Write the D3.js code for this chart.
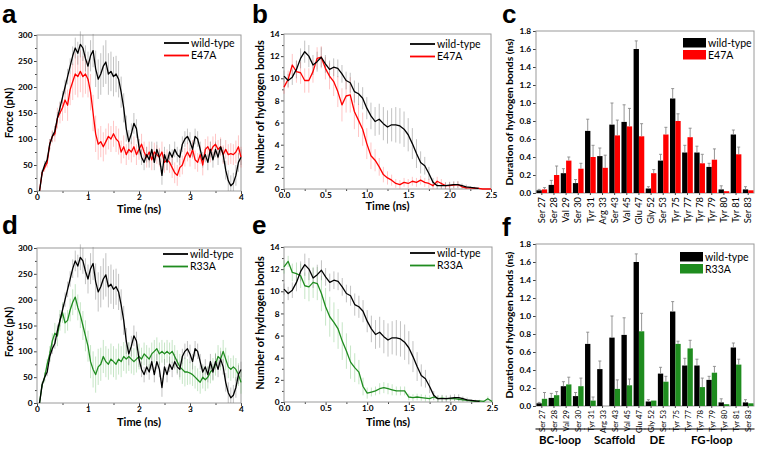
<!DOCTYPE html>
<html><head><meta charset="utf-8">
<script src="https://cdn.jsdelivr.net/npm/d3@7"></script>
<style>
body{margin:0;background:#fff;}
svg{display:block;font-family:Lato,"Open Sans",sans-serif;}
</style></head><body>
<svg id="chart" width="759" height="455"></svg>
<script>
// ---------- DATA ----------
const forceTime = d3.range(1, 81).map(i => +(i * 0.05).toFixed(2)); // 0.05 .. 4.00 ns
const bondTime = d3.range(0, 51).map(i => +(i * 0.05).toFixed(2));  // 0.00 .. 2.50 ns

const forceWT = [0,35,50,60,90,105,115,140,160,180, 200,220,240,260,275,265,282,275,255,240,
  260,270,235,215,225,240,248,225,230,220, 225,215,190,160,120,95,110,130,120,85,
  65,55,70,60,80,55,80,65,30,70, 55,75,65,80,70,65,90,100,105,95,
  80,105,100,80,60,70,55,80,60,80, 65,85,70,40,20,10,15,30,55,65];
const forceWTErr = [0,5,8,8,10,10,10,12,12,12, 14,15,15,18,20,22,25,25,25,28,
  30,32,35,38,40,40,42,40,38,38, 35,35,30,28,25,22,20,20,18,15,
  15,15,15,15,15,15,15,15,18,15, 15,15,15,15,15,15,15,15,15,18,
  15,15,15,15,15,15,15,15,15,15, 15,15,15,18,20,20,20,20,18,15];
const forceE47A = [0,35,45,55,90,105,110,140,150,160, 175,165,195,210,225,220,230,220,225,215,
  190,150,110,90,95,85,95,105,100,110, 100,95,75,85,70,80,75,85,70,80,
  90,75,65,75,60,75,70,65,75,55, 60,55,45,35,30,45,50,65,75,65,
  80,60,55,70,50,80,85,75,85,90, 80,85,70,80,70,72,70,75,85,65];
const forceE47AErr = [0,5,8,10,10,12,15,20,20,25, 25,30,30,35,40,40,40,40,38,35,
  35,35,35,30,30,28,25,25,25,25, 25,25,22,22,20,20,20,20,20,20,
  20,20,20,20,20,18,18,18,20,20, 20,20,20,20,20,18,18,18,18,18,
  18,18,18,18,20,20,20,20,20,20, 18,18,18,18,20,20,20,22,22,20];
const forceR33A = [0,35,50,75,95,120,135,130,160,175, 155,160,180,195,205,185,170,150,130,110,
  80,65,55,70,75,90,80,75,85,80, 75,85,80,90,85,90,85,80,85,90,
  85,95,90,85,95,100,105,95,100,95, 100,95,100,90,80,70,65,60,60,58,
  55,50,45,40,50,45,50,60,65,75, 90,85,100,85,70,65,70,65,55,40];
const forceR33AErr = [0,5,10,10,15,15,20,20,20,20, 20,20,22,25,25,25,25,28,30,30,
  32,35,35,35,32,32,30,30,30,30, 30,30,30,28,28,28,28,26,26,25,
  22,22,22,22,22,22,22,22,22,22, 22,22,22,22,22,25,28,28,25,22,
  22,22,22,22,22,22,22,22,22,22, 22,22,22,22,22,22,22,22,22,22];

const bondsWT = [10.2,9.8,10.1,10.8,11.8,12.4,12.0,11.2,11.5,11.9,
  11.3,10.8,11.0,10.9,10.4,9.8,9.6,8.8,8.6,8.2,
  7.3,6.6,6.1,6.3,5.9,5.6,5.8,5.8,5.7,5.4,
  4.9,4.1,3.2,2.4,2.1,1.4,0.6,0.3,0.3,0.3,
  0.35,0.4,0.4,0.3,0.2,0.15,0.1,0.05];
const bondsWTErr = [0.5,0.6,0.7,0.8,0.9,1.0,1.0,0.9,0.9,0.9,
  0.8,0.8,0.8,0.8,0.8,0.8,0.9,1.0,1.0,1.0,
  1.0,1.2,1.3,1.4,1.5,1.5,1.5,1.6,1.6,1.6,
  1.5,1.4,1.3,1.0,0.8,0.6,0.4,0.3,0.3,0.3,
  0.3,0.3,0.3,0.2,0.2,0.1,0.1,0.05];
const bondsE47A = [9.2,9.9,11.2,10.6,10.5,9.8,9.8,10.6,11.8,11.9,
  10.9,10.2,9.7,8.8,7.6,8.4,8.5,7.0,6.2,5.4,
  4.1,3.0,2.6,2.0,1.3,1.0,0.8,0.5,0.4,0.6,
  0.5,0.7,0.6,0.8,0.6,0.5,0.3,0.7,0.5,0.3,
  0.3,0.35,0.4,0.2,0.1,0.1,0.05,0.05,0.0,0.0,0.0];
const bondsE47AErr = [0.6,0.8,1.0,1.0,1.0,1.1,1.1,1.0,1.0,1.0,
  1.0,1.2,1.3,1.4,1.5,1.5,1.6,1.6,1.5,1.5,
  1.4,1.2,1.0,0.8,0.7,0.6,0.5,0.4,0.4,0.4,
  0.4,0.4,0.4,0.4,0.4,0.4,0.4,0.4,0.4,0.3,
  0.3,0.3,0.3,0.2,0.2,0.1,0.1,0.1,0,0,0];
const bondsR33A = [12.2,12.7,11.7,11.6,11.4,10.5,10.4,10.8,10.7,9.8,
  8.6,7.7,7.2,6.6,5.5,4.6,3.6,3.1,2.7,1.4,
  0.8,0.9,1.0,1.2,1.3,1.2,1.1,1.0,1.0,1.0,
  0.45,0.4,0.45,0.4,0.35,0.3,0.45,0.3,0.35,0.3,
  0.3,0.3,0.25,0.2,0.15,0.1,0.05,0.1,0.05,0.3,0.05];
const bondsR33AErr = [0.6,0.5,0.8,1.0,1.1,1.2,1.3,1.4,1.5,1.6,
  1.7,1.8,1.8,1.8,1.7,1.6,1.5,1.3,1.1,0.8,
  0.5,0.4,0.4,0.5,0.5,0.5,0.5,0.4,0.4,0.4,
  0.3,0.3,0.3,0.3,0.3,0.3,0.3,0.3,0.3,0.2,
  0.2,0.2,0.2,0.2,0.1,0.1,0.1,0.1,0.1,0.2,0.1];

const residues = ["Ser 27","Ser 28","Val 29","Ser 30","Tyr 31","Arg 33","Ser 43","Val 45","Glu 47",
  "Gly 52","Ser 53","Tyr 75","Tyr 77","Tyr 78","Tyr 79","Tyr 80","Tyr 81","Ser 83"];
const durWT     = [0.03,0.09,0.22,0.11,0.69,0.41,0.76,0.79,1.60,0.05,0.36,1.05,0.45,0.45,0.29,0.04,0.65,0.04];
const durWTErr  = [0.01,0.05,0.05,0.04,0.13,0.09,0.24,0.19,0.09,0.02,0.07,0.11,0.08,0.07,0.04,0.04,0.05,0.03];
const durE47A   = [0.04,0.20,0.36,0.27,0.40,0.28,0.64,0.74,0.63,0.22,0.65,0.80,0.62,0.33,0.37,0.02,0.43,0.03];
const durE47AErr= [0.02,0.10,0.04,0.06,0.13,0.14,0.17,0.20,0.14,0.04,0.08,0.08,0.10,0.10,0.12,0.00,0.08,0.00];
const durR33A   = [0.08,0.12,0.24,0.22,0.06,0.00,0.19,0.23,0.83,0.06,0.27,0.69,0.64,0.21,0.37,0.02,0.46,0.03];
const durR33AErr= [0.07,0.04,0.08,0.09,0.04,0.00,0.10,0.07,0.20,0.00,0.06,0.03,0.09,0.10,0.07,0.00,0.06,0.00];
const regions = [
  {name:"BC-loop", from:"Ser 27", to:"Ser 30"},
  {name:"Scaffold", from:"Tyr 31", to:"Glu 47"},
  {name:"DE", from:"Gly 52", to:"Ser 53"},
  {name:"FG-loop", from:"Tyr 75", to:"Ser 83"}
];

// ---------- DRAWING ----------
const svg = d3.select('#chart');
const RED = '#ff0000', GREEN = '#1f8c1f';

function styleAxis(sel){
  sel.select('.domain').remove();
  sel.selectAll('.tick line').attr('stroke','#444');
  sel.selectAll('.tick text').attr('fill','#000').style('font','bold 8.3px Lato, sans-serif');
}

function lineChart(c){
  const x = d3.scaleLinear().domain(c.xDomain).range([c.left, c.right]);
  const y = d3.scaleLinear().domain(c.yDomain).range([c.bottom, c.top]);
  const g = svg.append('g');
  g.append('g').attr('transform',`translate(0,${c.bottom})`)
    .call(d3.axisBottom(x).tickValues(c.xMinor).tickSize(2).tickFormat('')).call(styleAxis);
  g.append('g').attr('transform',`translate(${c.left},0)`)
    .call(d3.axisLeft(y).tickValues(c.yMinor).tickSize(2).tickFormat('')).call(styleAxis);
  g.append('g').attr('transform',`translate(0,${c.bottom})`)
    .call(d3.axisBottom(x).tickValues(c.xTicks).tickSize(3).tickPadding(0.5).tickFormat(c.xFmt)).call(styleAxis);
  g.append('g').attr('transform',`translate(${c.left},0)`)
    .call(d3.axisLeft(y).tickValues(c.yTicks).tickSize(3).tickPadding(1.5).tickFormat(d3.format('d'))).call(styleAxis);
  g.append('rect').attr('x',c.left).attr('y',c.top).attr('width',c.right-c.left).attr('height',c.bottom-c.top)
    .attr('fill','none').attr('stroke','#9a9a9a').attr('stroke-width',1);
  c.series.forEach(s=>{
    const pts = s.values.map((v,i)=>({t:s.times[i], v, e:s.errors[i]}));
    g.append('g').selectAll('line').data(pts).join('line')
      .attr('x1',d=>x(d.t)).attr('x2',d=>x(d.t))
      .attr('y1',d=>y(Math.max(c.yDomain[0], d.v-d.e))).attr('y2',d=>y(d.v+d.e))
      .attr('stroke',s.errColor).attr('stroke-width',1);
  });
  c.series.forEach(s=>{
    const pts = s.values.map((v,i)=>({t:s.times[i], v}));
    g.append('path').datum(pts)
      .attr('d', d3.line().x(d=>x(d.t)).y(d=>y(d.v)))
      .attr('fill','none').attr('stroke',s.color).attr('stroke-width',1.3).attr('stroke-linejoin','round');
  });
  const lg = g.append('g');
  [...c.series].reverse().forEach((s,i)=>{
    const ly = c.legendY + i*12.5;
    lg.append('line').attr('x1',c.legendX).attr('x2',c.legendX+25).attr('y1',ly).attr('y2',ly)
      .attr('stroke',s.color).attr('stroke-width',1.8);
    lg.append('text').attr('x',c.legendX+27).attr('y',ly+3.8).text(s.name)
      .style('font','10.5px Lato, sans-serif');
  });
  g.append('text').attr('x',(c.left+c.right)/2).attr('y',c.xTitleY).attr('text-anchor','middle')
    .style('font','bold 11px Lato, sans-serif').text('Time (ns)');
  g.append('text').attr('transform',`translate(${c.yTitleX},${c.yTitleCY}) rotate(-90)`).attr('text-anchor','middle')
    .style('font','bold 11px Lato, sans-serif').text(c.yTitle);
}

function barChart(c){
  const x = d3.scaleBand().domain(residues).range([c.left, c.right]).paddingInner(0.12).paddingOuter(0.04);
  const sub = d3.scaleBand().domain([0,1]).range([0, x.bandwidth()]);
  const y = d3.scaleLinear().domain([0,1.8]).range([c.bottom, c.top]);
  const g = svg.append('g');
  g.append('g').attr('transform',`translate(${c.left},0)`)
    .call(d3.axisLeft(y).tickValues(d3.range(0,10).map(i=>+(i*0.2).toFixed(1))).tickSize(3).tickPadding(2).tickFormat(d3.format('.1f')))
    .call(styleAxis);
  g.append('rect').attr('x',c.left).attr('y',c.top).attr('width',c.right-c.left).attr('height',c.bottom-c.top)
    .attr('fill','none').attr('stroke','#9a9a9a');
  const sets = [{vals:durWT, errs:durWTErr, color:'#000'}, {vals:c.values, errs:c.errors, color:c.color}];
  sets.forEach((s,k)=>{
    const data = residues.map((r,i)=>({r, v:s.vals[i], e:s.errs[i]}));
    const gg = g.append('g');
    gg.selectAll('rect').data(data).join('rect')
      .attr('x',d=>x(d.r)+sub(k)).attr('width',sub.bandwidth())
      .attr('y',d=>y(d.v)).attr('height',d=>y(0)-y(d.v)).attr('fill',s.color);
    const eb = data.filter(d=>d.e>0);
    gg.selectAll('line.v').data(eb).join('line').attr('class','v')
      .attr('x1',d=>x(d.r)+sub(k)+sub.bandwidth()/2).attr('x2',d=>x(d.r)+sub(k)+sub.bandwidth()/2)
      .attr('y1',d=>y(d.v)).attr('y2',d=>y(d.v+d.e)).attr('stroke','#8a8a8a').attr('stroke-width',0.9);
    gg.selectAll('line.c').data(eb).join('line').attr('class','c')
      .attr('x1',d=>x(d.r)+sub(k)+sub.bandwidth()/2-1.5).attr('x2',d=>x(d.r)+sub(k)+sub.bandwidth()/2+1.5)
      .attr('y1',d=>y(d.v+d.e)).attr('y2',d=>y(d.v+d.e)).attr('stroke','#8a8a8a').attr('stroke-width',0.9);
  });
  g.append('g').selectAll('text').data(residues).join('text')
    .attr('transform',d=>`translate(${x(d)+x.bandwidth()/2+3.2},${c.bottom+4}) rotate(-90)`)
    .attr('text-anchor','end').style('font',`${c.labelSize}px Lato, sans-serif`).text(d=>d);
  g.append('g').selectAll('line').data(residues).join('line')
    .attr('x1',d=>x(d)+x.bandwidth()/2).attr('x2',d=>x(d)+x.bandwidth()/2)
    .attr('y1',c.bottom).attr('y2',c.bottom+2).attr('stroke','#444');
  [{n:'wild-type',col:'#000'},{n:c.name,col:c.color}].forEach((l,i)=>{
    const ly = c.legendY + i*12;
    g.append('rect').attr('x',c.legendX).attr('y',ly).attr('width',23).attr('height',9.5).attr('fill',l.col);
    g.append('text').attr('x',c.legendX+25).attr('y',ly+8.5).style('font','10.5px Lato, sans-serif').text(l.n);
  });
  g.append('text').attr('transform',`translate(${c.yTitleX},${c.yTitleCY}) rotate(-90)`).attr('text-anchor','middle')
    .style('font','bold 10.3px Lato, sans-serif').text('Duration of hydrogen bonds (ns)');
  if (c.regions){
    c.regions.forEach(rg=>{
      const x0 = x(rg.from)-1, x1 = x(rg.to)+x.bandwidth()+1;
      g.append('line').attr('x1',x0).attr('x2',x1).attr('y1',c.regionLineY).attr('y2',c.regionLineY)
        .attr('stroke','#000').attr('stroke-width',1);
      g.append('text').attr('x',(x0+x1)/2).attr('y',c.regionLineY+15).attr('text-anchor','middle')
        .style('font','bold 11.5px Lato, sans-serif').text(rg.name);
    });
  }
}

const fTicks = [0,50,100,150,200,250,300];
const bTicks = [0,2,4,6,8,10,12,14];

lineChart({left:37,right:241,top:35,bottom:191,xDomain:[0,4],yDomain:[0,300],
  xTicks:[0,1,2,3,4],xMinor:[0.5,1.5,2.5,3.5],yTicks:fTicks,yMinor:[25,75,125,175,225,275],xFmt:d3.format('d'),
  series:[{name:'wild-type',times:forceTime,values:forceWT,errors:forceWTErr,color:'#000',errColor:'rgba(120,120,120,0.45)'},
          {name:'E47A',times:forceTime,values:forceE47A,errors:forceE47AErr,color:RED,errColor:'rgba(255,90,90,0.35)'}].reverse(),
  legendX:164,legendY:43,xTitleY:213,yTitleX:13,yTitleCY:113,yTitle:'Force (pN)'});

lineChart({left:284,right:491,top:34,bottom:189,xDomain:[0,2.5],yDomain:[0,14],
  xTicks:[0,0.5,1,1.5,2,2.5],xMinor:[0.25,0.75,1.25,1.75,2.25],yTicks:bTicks,yMinor:[1,3,5,7,9,11,13],xFmt:d3.format('.1f'),
  series:[{name:'wild-type',times:bondTime,values:bondsWT,errors:bondsWTErr,color:'#000',errColor:'rgba(120,120,120,0.45)'},
          {name:'E47A',times:bondTime,values:bondsE47A,errors:bondsE47AErr,color:RED,errColor:'rgba(255,90,90,0.35)'}].reverse(),
  legendX:410,legendY:44,xTitleY:210,yTitleX:264,yTitleCY:107,yTitle:'Number of hydrogen bonds'});

lineChart({left:37,right:241,top:248,bottom:403,xDomain:[0,4],yDomain:[0,300],
  xTicks:[0,1,2,3,4],xMinor:[0.5,1.5,2.5,3.5],yTicks:fTicks,yMinor:[25,75,125,175,225,275],xFmt:d3.format('d'),
  series:[{name:'wild-type',times:forceTime,values:forceWT,errors:forceWTErr,color:'#000',errColor:'rgba(120,120,120,0.45)'},
          {name:'R33A',times:forceTime,values:forceR33A,errors:forceR33AErr,color:GREEN,errColor:'rgba(90,180,90,0.35)'}].reverse(),
  legendX:163,legendY:254,xTitleY:426,yTitleX:13,yTitleCY:332,yTitle:'Force (pN)'});

lineChart({left:284,right:492,top:247,bottom:402,xDomain:[0,2.5],yDomain:[0,14],
  xTicks:[0,0.5,1,1.5,2,2.5],xMinor:[0.25,0.75,1.25,1.75,2.25],yTicks:bTicks,yMinor:[1,3,5,7,9,11,13],xFmt:d3.format('.1f'),
  series:[{name:'wild-type',times:bondTime,values:bondsWT,errors:bondsWTErr,color:'#000',errColor:'rgba(120,120,120,0.45)'},
          {name:'R33A',times:bondTime,values:bondsR33A,errors:bondsR33AErr,color:GREEN,errColor:'rgba(90,180,90,0.35)'}].reverse(),
  legendX:410,legendY:253,xTitleY:426,yTitleX:264,yTitleCY:323,yTitle:'Number of hydrogen bonds'});

barChart({left:536,right:754,top:31,bottom:193,values:durE47A,errors:durE47AErr,color:RED,name:'E47A',
  legendX:683,legendY:38,yTitleX:513,yTitleCY:112,labelSize:9.3});
barChart({left:536,right:754,top:244,bottom:406,values:durR33A,errors:durR33AErr,color:GREEN,name:'R33A',
  legendX:680,legendY:252,yTitleX:513,yTitleCY:325,regions:regions,regionLineY:429,labelSize:7.8});

[['a',2,23],['b',252,23],['c',502,23],['d',2,234],['e',252,234],['f',502,236]].forEach(([t,x,y])=>{
  svg.append('text').attr('x',x).attr('y',y).style('font','bold 26px "Liberation Sans", Arial, sans-serif').text(t);
});
</script>
</body></html>
